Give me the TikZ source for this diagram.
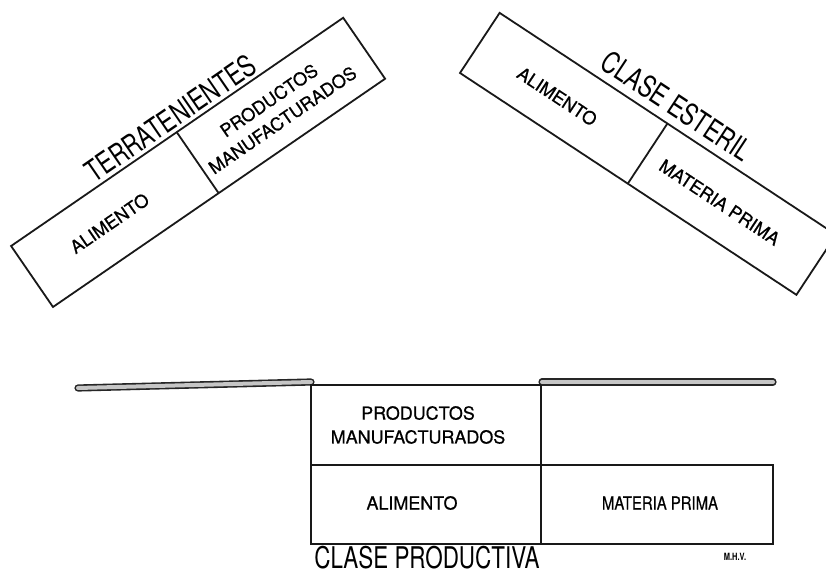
\documentclass[tikz,border=0pt]{standalone}
\usepackage{fontspec}
\setmainfont{TeX Gyre Heros}
\newfontfamily\titlefont[FakeStretch=0.75]{TeX Gyre Heros}
\newfontfamily\celdafont[FakeBold=0.7]{TeX Gyre Heros}
\usepackage{tikz}

\begin{document}
\begin{tikzpicture}[x=1bp, y=1bp,
	caja/.style={line width=1.8bp, black!90},
	celda/.style={font=\celdafont\fontsize{18}{24}\selectfont, align=center, inner sep=0pt},
	titulo/.style={font=\titlefont\fontsize{30}{32}\selectfont, inner sep=0pt, anchor=base},
	barra/.style={line width=1.6bp, black!85, double=gray!45, double distance=4bp, line cap=round}]
\useasboundingbox (0,0) rectangle (826,574);
%\draw [help lines, step=50] (0,0) grid (826,574);
%1
\begin{scope}[shift={(53,267)}, rotate=34.5, transform shape]
\draw [caja] (0,0) rectangle (403,74);
\draw [caja] (201,0) -- (201,74);
\node [celda] (tAlim) at (94,37) {ALIMENTO};
\node [celda] (tProd) at (295,36) {PRODUCTOS\\MANUFACTURADOS};
\node [titulo] (tTit) at (204,78) {TERRATENIENTES};
\end{scope}
%2
\begin{scope}[shift={(460,501)}, rotate=-33.4, transform shape]
\draw [caja] (0,0) rectangle (403,72);
\draw [caja] (201,0) -- (201,72);
\node [celda] (eAlim) at (94,34) {ALIMENTO};
\node [celda] (eMat) at (288,35) {MATERIA PRIMA};
\node [titulo] (eTit) at (199,81) {CLASE ESTERIL};
\end{scope}
%3
\draw [barra] (78,186) -- (311,192);
\draw [barra] (542,192) -- (773,192);
\draw [caja] (541,189) -- (311,189) -- (311,30) -- (773,30) -- (773,109) -- (311,109);
\draw [caja] (541,189) -- (541,30);
\node [celda] (pProd) at (418,149) {PRODUCTOS\\MANUFACTURADOS};
\node [celda] (pAlim) at (412,71) {ALIMENTO};
\node [celda, xscale=0.83] (pMat) at (660,71) {MATERIA PRIMA};
\node [titulo] (pTit) at (427,5) {CLASE PRODUCTIVA};
\node [font=\titlefont\bfseries\fontsize{10}{12}\selectfont, inner sep=0pt] (firma) at (735,17) {M.H.V.};
\end{tikzpicture}
\end{document}
